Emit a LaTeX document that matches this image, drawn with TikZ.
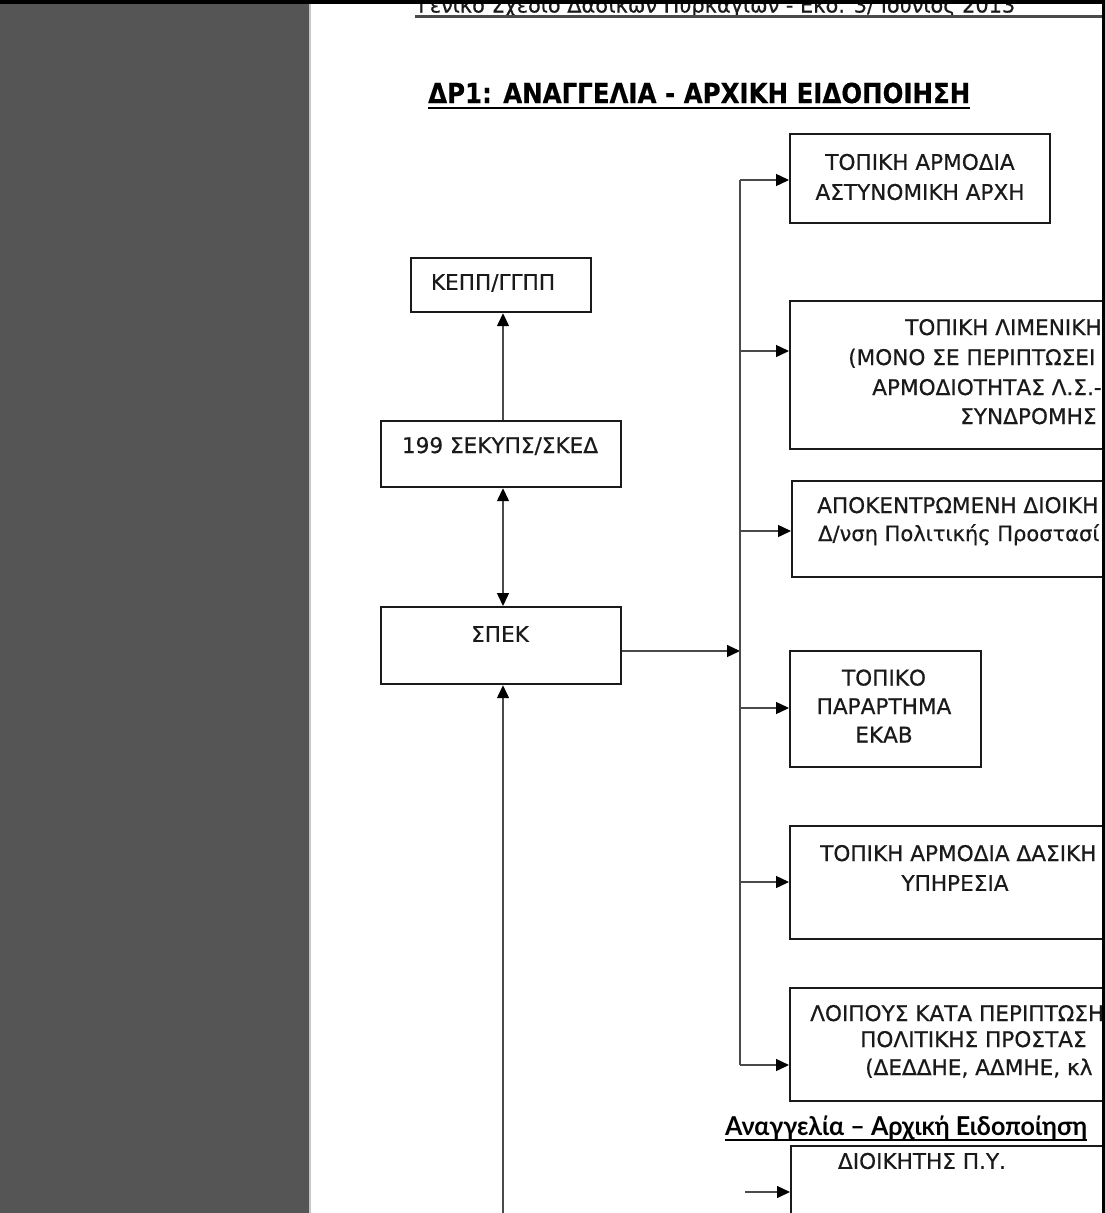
\documentclass[tikz,border=0pt]{standalone}
\usepackage{fontspec}
\usepackage{graphicx}
\setmainfont{DejaVu Sans}
\newfontfamily\boxfont[FakeBold=0.5]{DejaVu Sans}
\newfontfamily\footfont{Lato}
\usetikzlibrary{arrows.meta}
\definecolor{panelgray}{HTML}{555555}
\definecolor{boxline}{HTML}{1A1A1A}
\definecolor{connline}{HTML}{4A4A4A}
\definecolor{txt}{HTML}{1A1A1A}
\begin{document}
\begin{tikzpicture}[x=1pt,y=-1pt,
  boxst/.style={draw=boxline, line width=2.2pt, anchor=north west, inner sep=0pt},
  lbl/.style={inner sep=0pt, text=txt, font=\boxfont\fontsize{21.6}{30}\selectfont},
  lblw/.style={lbl, anchor=base west},
  conn/.style={draw=connline, line width=1.4pt},
  arr/.style={conn, -{Triangle[length=13pt,width=12pt,fill=black,color=black]}},
  darr/.style={conn, {Triangle[length=13pt,width=12pt,fill=black,color=black]}-{Triangle[length=13pt,width=12pt,fill=black,color=black]}}
]
\useasboundingbox (0,0) rectangle (1105,1213);
\clip (0,0) rectangle (1105,1213);
\fill[white] (0,0) rectangle (1105,1213);
\fill[panelgray] (0,0) rectangle (309,1213);
\fill[gray!45] (309,0) rectangle (310.5,1213);

% header (cut off at top in the reference)
\node[lblw] (hdr) at (418,12.5) {\fontsize{21}{24}\selectfont\resizebox{597pt}{\height}{Γενικό Σχέδιο Δασικών Πυρκαγιών - Εκδ. 3/ Ιούνιος 2013}};
\draw[line width=2.8pt, draw=connline] (415,16.5) -- (1102,16.5);

% title
\node[lblw, text=black] (title) at (428,103) {\fontsize{27.5}{30}\selectfont\bfseries\resizebox{542pt}{\height}{ΔΡ1: ΑΝΑΓΓΕΛΙΑ - ΑΡΧΙΚΗ ΕΙΔΟΠΟΙΗΣΗ}};
\draw[line width=2.2pt] (428,108) -- (970,108);

% left column boxes
\node[boxst, minimum width=180pt, minimum height=54pt] (kepp) at (410,257) {};
\node[boxst, minimum width=240pt, minimum height=66pt] (sek) at (380,420) {};
\node[boxst, minimum width=240pt, minimum height=77pt] (spek) at (380,606) {};
\node[lbl] (keppt) at (493,283) {ΚΕΠΠ/ΓΓΠΠ};
\node[lbl] (sekt) at (500,446) {199 ΣΕΚΥΠΣ/ΣΚΕΔ};
\node[lbl] (spekt) at (500,634) {ΣΠΕΚ};

% right column boxes
\node[boxst, minimum width=260pt, minimum height=89pt] (b1) at (789,133) {};
\node[boxst, minimum width=400pt, minimum height=148pt] (b2) at (789,300) {};
\node[boxst, minimum width=400pt, minimum height=96pt] (b3) at (791,480) {};
\node[boxst, minimum width=191pt, minimum height=116pt] (b4) at (789,650) {};
\node[boxst, minimum width=400pt, minimum height=113pt] (b5) at (789,825) {};
\node[boxst, minimum width=400pt, minimum height=113pt] (b6) at (789,987) {};
\node[boxst, minimum width=400pt, minimum height=200pt] (b7) at (790,1145) {};

\node[lbl, align=center] (b1t) at (920,177) {ΤΟΠΙΚΗ ΑΡΜΟΔΙΑ\\ΑΣΤΥΝΟΜΙΚΗ ΑΡΧΗ};
\node[lblw] (b2a) at (905,335) {ΤΟΠΙΚΗ ΛΙΜΕΝΙΚΗ};
\node[lblw] (b2b) at (848,365) {(ΜΟΝΟ ΣΕ ΠΕΡΙΠΤΩΣΕΙ};
\node[lblw] (b2c) at (872,395) {ΑΡΜΟΔΙΟΤΗΤΑΣ Λ.Σ.-};
\node[lblw] (b2d) at (960,424) {ΣΥΝΔΡΟΜΗΣ};
\node[lblw] (b3a) at (817,513) {ΑΠΟΚΕΝΤΡΩΜΕΝΗ ΔΙΟΙΚΗ};
\node[lblw, font=\boxfont\fontsize{21}{30}\selectfont] (b3b) at (818,541) {Δ/νση Πολιτικής Προστασί};
\node[lbl, align=center, font=\boxfont\fontsize{21.6}{28.5}\selectfont] (b4t) at (884,706) {ΤΟΠΙΚΟ\\ΠΑΡΑΡΤΗΜΑ\\ΕΚΑΒ};
\node[lblw] (b5a) at (820,861) {ΤΟΠΙΚΗ ΑΡΜΟΔΙΑ ΔΑΣΙΚΗ};
\node[lbl] (b5b) at (955,883) {ΥΠΗΡΕΣΙΑ};
\node[lblw] (b6a) at (810,1021) {ΛΟΙΠΟΥΣ ΚΑΤΑ ΠΕΡΙΠΤΩΣΗ};
\node[lblw] (b6b) at (860,1047) {ΠΟΛΙΤΙΚΗΣ ΠΡΟΣΤΑΣ};
\node[lblw] (b6c) at (865,1075) {(ΔΕΔΔΗΕ, ΑΔΜΗΕ, κλ};
\node[lbl] (b7t) at (922,1161) {ΔΙΟΙΚΗΤΗΣ Π.Υ.};

% connectors
\coordinate (vx) at (503,0);
\coordinate (bot) at (503,1213);
\draw[arr] (sek.north -| vx) -- (kepp.south -| vx);
\draw[darr] (sek.south -| vx) -- (spek.north -| vx);
\draw[arr] (bot) -- (spek.south -| vx);

\coordinate (busm) at (740,651);
\coordinate (t1) at (740,180);
\coordinate (t2) at (740,351);
\coordinate (t3) at (740,531);
\coordinate (t4) at (740,708);
\coordinate (t5) at (740,882);
\coordinate (t6) at (740,1065);
\coordinate (s7) at (745,1192);
\draw[arr] (spek.east |- busm) -- (busm);
\draw[conn] (t1) -- (t6);
\draw[arr] (t1) -- (t1 -| b1.west);
\draw[arr] (t2) -- (t2 -| b2.west);
\draw[arr] (t3) -- (t3 -| b3.west);
\draw[arr] (t4) -- (t4 -| b4.west);
\draw[arr] (t5) -- (t5 -| b5.west);
\draw[arr] (t6) -- (t6 -| b6.west);
\draw[arr] (s7) -- (s7 -| b7.west);

% footer title
\node[lblw, text=black] (foot) at (725,1135) {\footfont\fontsize{26}{30}\selectfont\bfseries\resizebox{362pt}{\height}{Αναγγελία – Αρχική Ειδοποίηση}};
\draw[line width=2.2pt] (725,1140) -- (1087,1140);

% frame lines
\fill[black] (0,0) rectangle (1105,4);
\fill[black] (1102,0) rectangle (1105,1213);
\end{tikzpicture}
\end{document}
